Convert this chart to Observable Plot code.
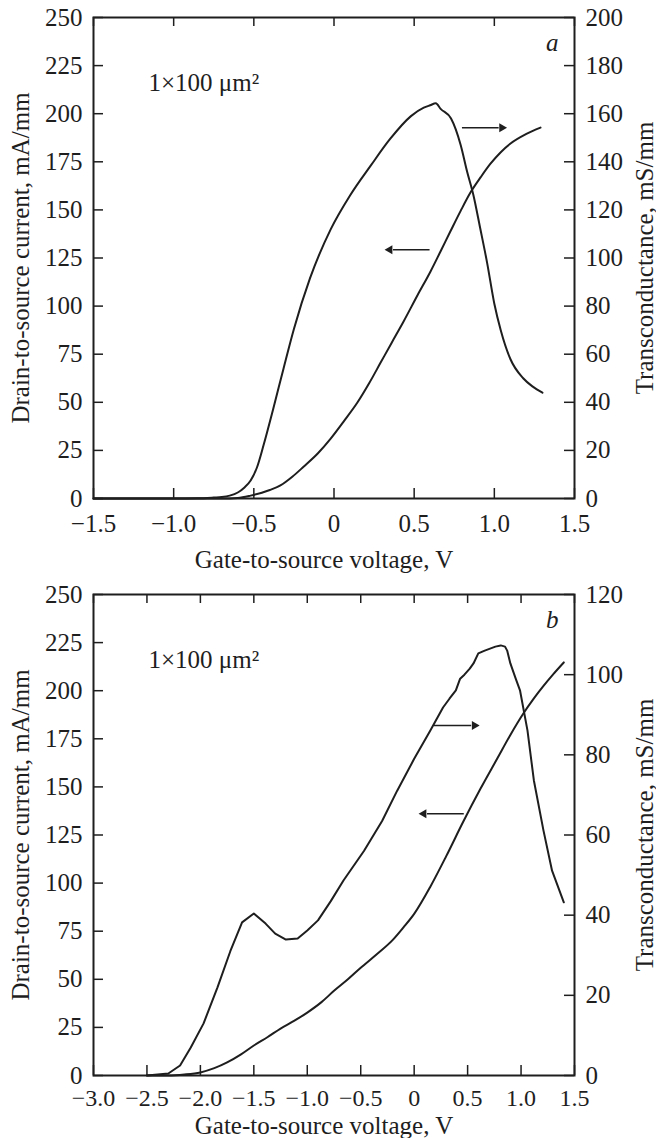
<!DOCTYPE html>
<html><head><meta charset="utf-8">
<script src="https://cdn.jsdelivr.net/npm/d3@7"></script>
<script src="https://cdn.jsdelivr.net/npm/@observablehq/plot@0.6"></script>
<style>
body{margin:0;background:#fff;}
#chart{width:656px;}
#chart svg{display:block;}
</style></head><body><div id="chart"></div>
<script>
// ---------- Panel a ----------
const aGmVgs = [-1.5, -1.2, -1.0, -0.85, -0.75, -0.7, -0.65, -0.6, -0.56, -0.52, -0.48, -0.44, -0.38, -0.315, -0.25, -0.15, -0.02, 0.1, 0.23, 0.35, 0.48, 0.56, 0.6, 0.635, 0.665, 0.73, 0.79, 0.83, 0.87, 0.91, 0.955, 1.0, 1.04, 1.1, 1.18, 1.24, 1.3];
const aGm    = [0, 0, 0, 0.1, 0.4, 0.6, 1.2, 2.5, 4.5, 7.5, 13, 22, 37, 54, 70.5, 91.5, 112, 126, 138.5, 149.5, 159, 162.5, 163.5, 164.3, 162, 158, 147, 136, 126, 113, 98, 81, 70, 58, 50, 46.5, 44];
const aIdVgs = [-1.5, -1.0, -0.7, -0.6, -0.52, -0.45, -0.4, -0.334, -0.26, -0.19, -0.1, -0.022, 0.06, 0.147, 0.22, 0.29, 0.36, 0.434, 0.52, 0.602, 0.665, 0.727, 0.79, 0.851, 0.915, 0.976, 1.04, 1.101, 1.2, 1.288];
const aId    = [0, 0, 0, 0.3, 1.5, 3, 4.4, 6.8, 11.3, 16.5, 23.5, 31, 40, 50, 60, 70.5, 81, 92, 105.5, 118, 128.5, 139, 149.5, 159, 167, 174, 180, 184.5, 189.5, 192.8];

// ---------- Panel b ----------
const bGmVgs = [-2.5, -2.3, -2.19, -2.09, -1.97, -1.84, -1.72, -1.61, -1.5, -1.39, -1.3, -1.2, -1.09, -1.0, -0.9, -0.78, -0.66, -0.47, -0.3, -0.16, 0, 0.15, 0.27, 0.33, 0.39, 0.43, 0.47, 0.52, 0.555, 0.6, 0.66, 0.71, 0.76, 0.81, 0.85, 0.87, 0.9, 0.95, 0.99, 1.06, 1.12, 1.21, 1.29, 1.4];
const bGm    = [0, 0.5, 2.5, 7, 13, 22, 31, 38.2, 40.4, 37.9, 35.4, 33.9, 34.2, 36.2, 38.7, 43.5, 48.7, 56, 63.5, 71, 79, 86, 91.8, 94, 96.1, 99, 100, 101.5, 102.8, 105.3, 106, 106.5, 107, 107.3, 107, 106, 102.8, 99, 96.1, 86.1, 73.6, 61.1, 51.1, 43.2];
const bIdVgs = [-2.5, -2.3, -2.15, -2.0, -1.87, -1.75, -1.62, -1.5, -1.37, -1.25, -1.12, -1.0, -0.87, -0.75, -0.62, -0.5, -0.35, -0.2, -0.1, 0, 0.15, 0.3, 0.46, 0.62, 0.78, 0.9, 1.02, 1.12, 1.21, 1.3, 1.4];
const bId    = [0, 0, 0.5, 1.6, 3.8, 6.8, 11, 15.6, 20, 24.4, 28.5, 32.7, 38, 44, 50, 56, 63, 70.5, 77, 84, 98, 114, 132, 149, 165, 177, 188, 196, 202.5, 208.5, 214.7];

// ---------- Axes / ticks ----------
const leftTicks   = [0, 25, 50, 75, 100, 125, 150, 175, 200, 225, 250];
const rightTicksA = [0, 20, 40, 60, 80, 100, 120, 140, 160, 180, 200];
const rightTicksB = [0, 20, 40, 60, 80, 100, 120];
const xTicksA = [-1.5, -1.0, -0.5, 0, 0.5, 1.0, 1.5];
const xTicksB = [-3.0, -2.5, -2.0, -1.5, -1.0, -0.5, 0, 0.5, 1.0, 1.5];

// ---------- Texts ----------
const xTitle = "Gate-to-source voltage, V";
const leftTitle = "Drain-to-source current, mA/mm";
const rightTitle = "Transconductance, mS/mm";
const sizeLabel = "1×100 μm²";

// arrows: tail x, head x, y (left axis units), direction
const arrowsA = [{x1: 0.798, x2: 1.047, y: 192.7, dir: 1}, {x1: 0.596, x2: 0.348, y: 129.3, dir: -1}];
const arrowsB = [{x1: 0.183, x2: 0.564, y: 181.9, dir: 1}, {x1: 0.464, x2: 0.090, y: 136.0, dir: -1}];

const ink = "#1e1e1e";
const fmtX = d => d === 0 ? "0" : (d < 0 ? "\u2212" : "") + Math.abs(d).toFixed(1);

function panel(o) {
  const k = 250 / o.rightMax;
  const W = 656, mL = 93, mR = 82, mT = 17;
  const plotW = W - mL - mR, plotH = o.height - mT - o.marginBottom;
  const idData = o.idX.map((x, i) => ({x, y: o.idY[i]}));
  const gmData = o.gmX.map((x, i) => ({x, y: o.gmY[i] * k}));
  return Plot.plot({
    width: W, height: o.height,
    marginLeft: mL, marginRight: mR, marginTop: mT, marginBottom: o.marginBottom,
    style: {fontFamily: "'Liberation Serif', 'Times New Roman', serif", fontSize: "25px", color: ink, background: "#fff", overflow: "visible"},
    x: {domain: o.xDomain},
    y: {domain: [0, 250]},
    marks: [
      Plot.line(idData, {x: "x", y: "y", curve: "monotone-x", stroke: ink, strokeWidth: 2}),
      Plot.line(gmData, {x: "x", y: "y", curve: o.gmCurve, stroke: ink, strokeWidth: 2}),
      Plot.tickX(o.xTicks, {x: d => d, insetTop: plotH - 10, stroke: ink, strokeWidth: 1.5}),
      Plot.tickX(o.xTicks, {x: d => d, insetBottom: plotH - 9, stroke: ink, strokeWidth: 1.5}),
      Plot.tickY(leftTicks, {y: d => d, insetRight: plotW - 10, stroke: ink, strokeWidth: 1.5}),
      Plot.tickY(o.rightTicks, {y: d => d * k, insetLeft: plotW - 10, stroke: ink, strokeWidth: 1.5}),
      Plot.frame({stroke: ink, strokeWidth: 2}),
      Plot.axisX(o.xTicks, {tickSize: 0, tickPadding: o.xPad, fontSize: o.xFont, tickFormat: fmtX, label: null}),
      Plot.axisY(leftTicks, {anchor: "left", tickSize: 0, tickPadding: 11, label: null}),
      Plot.axisY(o.rightTicks.map(d => d * k), {anchor: "right", tickSize: 0, tickPadding: 11, tickFormat: d => String(Math.round(d / k)), label: null}),
      Plot.link(o.arrows, {x1: "x1", x2: d => d.x2 - d.dir * 0.02 * (o.xDomain[1] - o.xDomain[0]) / 3, y1: "y", y2: "y", stroke: ink, strokeWidth: 1.5}),
      Plot.dot(o.arrows, {x: "x2", y: "y", symbol: "triangle2", r: 4.3, rotate: d => d.dir * 90, fill: ink, stroke: "none"}),
      Plot.text([sizeLabel], {frameAnchor: "top-left", dx: 55, dy: 65, textAnchor: "start", lineAnchor: "middle", fill: ink}),
      Plot.text([o.letter], {frameAnchor: "top-right", dx: -16, dy: 25, textAnchor: "end", lineAnchor: "middle", fontStyle: "italic", fill: ink}),
      Plot.text([leftTitle], {frameAnchor: "left", dx: -73, rotate: -90, textAnchor: "middle", lineAnchor: "middle", fill: ink}),
      Plot.text([rightTitle], {frameAnchor: "right", dx: 70, rotate: -90, textAnchor: "middle", lineAnchor: "middle", fill: ink}),
      Plot.text([xTitle], {frameAnchor: "bottom", dx: -10, dy: o.xTitleDy, textAnchor: "middle", lineAnchor: "middle", fill: ink})
    ]
  });
}

const chart = document.getElementById("chart");
chart.append(panel({height: 577, marginBottom: 79, xDomain: [-1.5, 1.5], xTicks: xTicksA, rightMax: 200, rightTicks: rightTicksA,
  idX: aIdVgs, idY: aId, gmX: aGmVgs, gmY: aGm, gmCurve: "monotone-x", arrows: arrowsA, letter: "a", xTitleDy: 61, xPad: 16, xFont: 25}));
chart.append(panel({height: 561, marginBottom: 63, xDomain: [-3.0, 1.5], xTicks: xTicksB, rightMax: 120, rightTicks: rightTicksB,
  idX: bIdVgs, idY: bId, gmX: bGmVgs, gmY: bGm, gmCurve: "linear", arrows: arrowsB, letter: "b", xTitleDy: 50, xPad: 13, xFont: 24}));
</script>
</body></html>
